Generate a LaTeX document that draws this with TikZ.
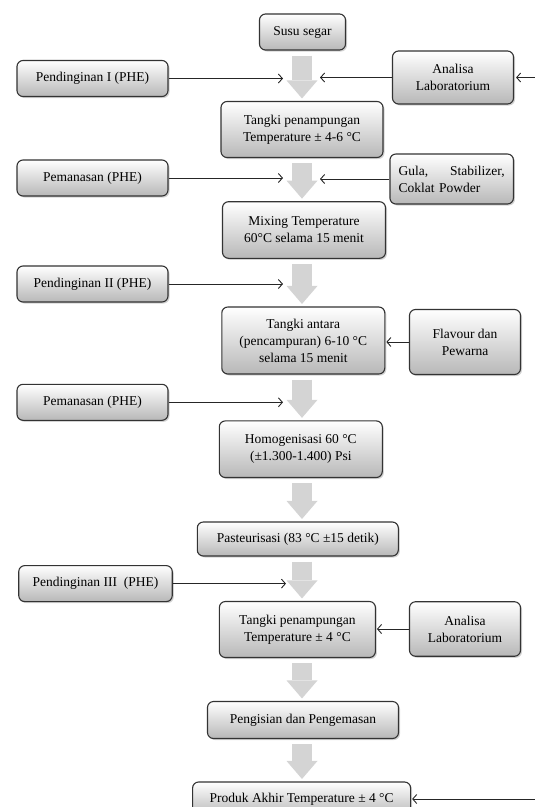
\documentclass[tikz,border=0pt]{standalone}
\usepackage{fontspec}
\setmainfont{Liberation Serif}
\usetikzlibrary{arrows.meta,shadows}

\begin{document}
\begin{tikzpicture}[
	x=1pt, y=-1pt,
	box/.style={
		rectangle,
		rounded corners=6pt,
		draw=black!80,
		line width=1.1pt,
		top color=white,
		bottom color=black!28,
		drop shadow={shadow xshift=1.5pt, shadow yshift=-1.5pt, opacity=0.35},
		inner sep=2pt,
		align=center,
		font=\fontsize{13.5}{17}\selectfont
	},
	side/.style={box, minimum width=151pt, minimum height=36pt},
	arrow/.style={-{Straight Barb[length=4pt,width=9pt]}, line width=0.9pt, draw=black!85},
	flow/.style={-{Triangle[length=18pt,width=31pt,line width=0pt]}, line width=20pt, draw=black!17, shorten <=5pt, shorten >=2.5pt}
]

\useasboundingbox (0,0) rectangle (535,807);
\coordinate (axis) at (302,0);
\coordinate (edge) at (535,0);

% Bahan awal
\node[box, minimum width=86pt, minimum height=36pt] (susu) at (302.5,32) {Susu segar};
\node[side] (pend1) at (92.5,78.5) {Pendinginan I (PHE)};
\node[box, minimum width=121pt, minimum height=53pt] (lab1) at (453,77.5) {Analisa\\Laboratorium};

% Tangki penampungan
\node[box, minimum width=162pt, minimum height=56pt] (tangki1) at (302,129.5) {Tangki penampungan\\Temperature ± 4-6 °C};
\node[side] (pem1) at (92.5,178) {Pemanasan (PHE)};
\node[box, minimum width=123.5pt, minimum height=50pt, text width=106pt, align=left] (gula) at (451.7,179) {Gula,\hfill Stabilizer,\\Coklat Powder};

% Mixing
\node[box, minimum width=163pt, minimum height=56.6pt] (mixing) at (304,230) {Mixing Temperature\\60°C selama 15 menit};
\node[side] (pend2) at (92.5,284) {Pendinginan II (PHE)};

% Tangki antara
\node[box, minimum width=163pt, minimum height=67pt] (antara) at (303.3,340.5) {Tangki antara\\(pencampuran) 6-10 °C\\selama 15 menit};
\node[box, minimum width=111pt, minimum height=65pt] (flavour) at (465,342) {Flavour dan\\Pewarna};
\node[side] (pem2) at (92.5,402.3) {Pemanasan (PHE)};

% Homogenisasi dan pasteurisasi
\node[box, minimum width=163pt, minimum height=56.6pt] (homog) at (300.8,449.2) {Homogenisasi 60 °C\\(±1.300-1.400) Psi};
\node[box, minimum width=201pt, minimum height=34pt] (pasteur) at (297.8,539) {Pasteurisasi (83 °C ±15 detik)};
\node[side, minimum width=153.5pt] (pend3) at (95.5,583.6) {Pendinginan III\ \ (PHE)};

% Tangki penampungan akhir
\node[box, minimum width=156pt, minimum height=56pt] (tangki2) at (297.4,629.5) {Tangki penampungan\\Temperature ± 4 °C};
\node[box, minimum width=111pt, minimum height=54.5pt] (lab2) at (465,629) {Analisa\\Laboratorium};

% Pengisian dan produk akhir
\node[box, minimum width=191pt, minimum height=37pt] (isi) at (303,720) {Pengisian dan Pengemasan};
\node[box, minimum width=218pt, minimum height=34pt] (produk) at (301.6,799) {Produk Akhir Temperature ± 4 °C};

% Panah utama
\foreach \a/\b in {susu/tangki1, tangki1/mixing, mixing/antara, antara/homog, homog/pasteur, pasteur/tangki2, tangki2/isi, isi/produk}
	\draw[flow] (\a.south -| axis) -- (\b.north -| axis);

% Panah samping
\draw[arrow, shorten >=19pt] (pend1.east) -- (pend1.east -| axis);
\draw[arrow, shorten >=18pt] (lab1.west) -- (lab1.west -| axis);
\draw[arrow, shorten >=2pt] (lab1.east -| edge) -- (lab1.east);
\draw[arrow, shorten >=19pt] (pem1.east) -- (pem1.east -| axis);
\draw[arrow, shorten >=18pt] (gula.west) -- (gula.west -| axis);
\draw[arrow, shorten >=19pt] (pend2.east) -- (pend2.east -| axis);
\draw[arrow, shorten >=1pt] (flavour.west) -- (flavour.west -| antara.east);
\draw[arrow, shorten >=19pt] (pem2.east) -- (pem2.east -| axis);
\draw[arrow, shorten >=16pt] (pend3.east) -- (pend3.east -| axis);
\draw[arrow, shorten >=1pt] (lab2.west) -- (lab2.west -| tangki2.east);
\draw[arrow, shorten >=1pt] (produk.east -| edge) -- (produk.east);

\end{tikzpicture}
\end{document}
